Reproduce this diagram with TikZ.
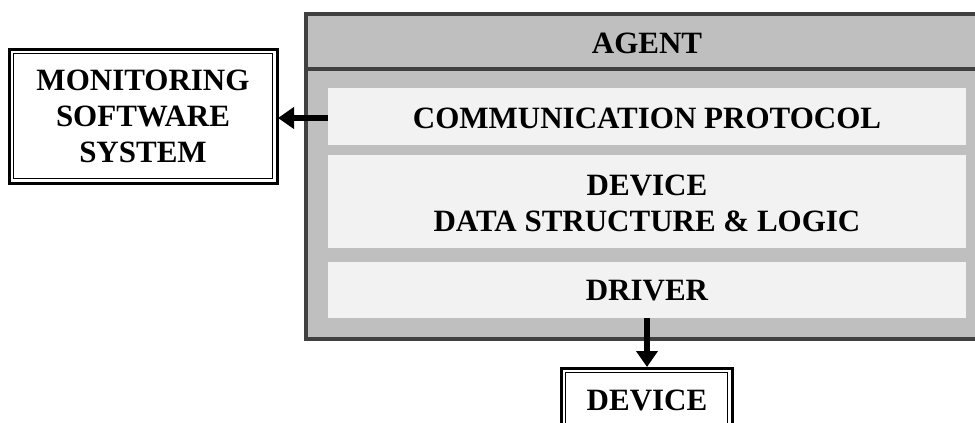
\documentclass[tikz,border=0pt]{standalone}
\usepackage{fontspec}
\setmainfont{Liberation Serif}
\usetikzlibrary{arrows.meta}
\definecolor{agentgray}{HTML}{BFBFBF}
\definecolor{layergray}{HTML}{F2F2F2}
\definecolor{borderdark}{HTML}{404040}
\tikzset{
  lbl/.style={font=\fontsize{31}{36}\selectfont\bfseries, align=center, text=black},
  layer/.style={fill=layergray, draw=none},
  outerline/.style={draw=black, line width=3pt, fill=white},
  innerline/.style={draw=black, line width=1.3pt},
  flow/.style={line width=5.5pt, -{Triangle[length=16pt,width=21pt]}, black}
}
\begin{document}
\begin{tikzpicture}[x=1pt,y=-1pt]
\useasboundingbox (0,0) rectangle (975,423);
% agent container
\draw[fill=agentgray, draw=borderdark, line width=4pt] (306,14) rectangle (990,339);
\draw[draw=borderdark, line width=4pt] (306,69) -- (990,69);
\node[lbl] (agent) at (647,43) {AGENT};
% layers
\fill[layer] (328,88) rectangle (966,145);
\node[lbl] (comm) at (647,118) {COMMUNICATION PROTOCOL};
\coordinate (commL) at (328,118);
\fill[layer] (328,155) rectangle (966,248);
\node[lbl] (dev) at (647,203) {DEVICE\\DATA STRUCTURE \& LOGIC};
\fill[layer] (328,262) rectangle (966,318);
\node[lbl] (drv) at (647,291) {DRIVER};
\coordinate (drvB) at (647,318);
% external boxes
\draw[outerline] (9,49) rectangle (277,183);
\draw[innerline] (13.5,53.5) rectangle (272.5,178.5);
\node[lbl] (mon) at (143,116) {MONITORING\\SOFTWARE\\SYSTEM};
\coordinate (monR) at (278,118);
\draw[outerline] (561,368) rectangle (732,440);
\draw[innerline] (565.5,372.5) rectangle (727.5,440);
\node[lbl] (device) at (647,400) {DEVICE};
\coordinate (deviceT) at (647,367);
% connectors
\draw[flow] (commL) -- (monR);
\draw[flow] (drvB) -- (deviceT);
\end{tikzpicture}
\end{document}
